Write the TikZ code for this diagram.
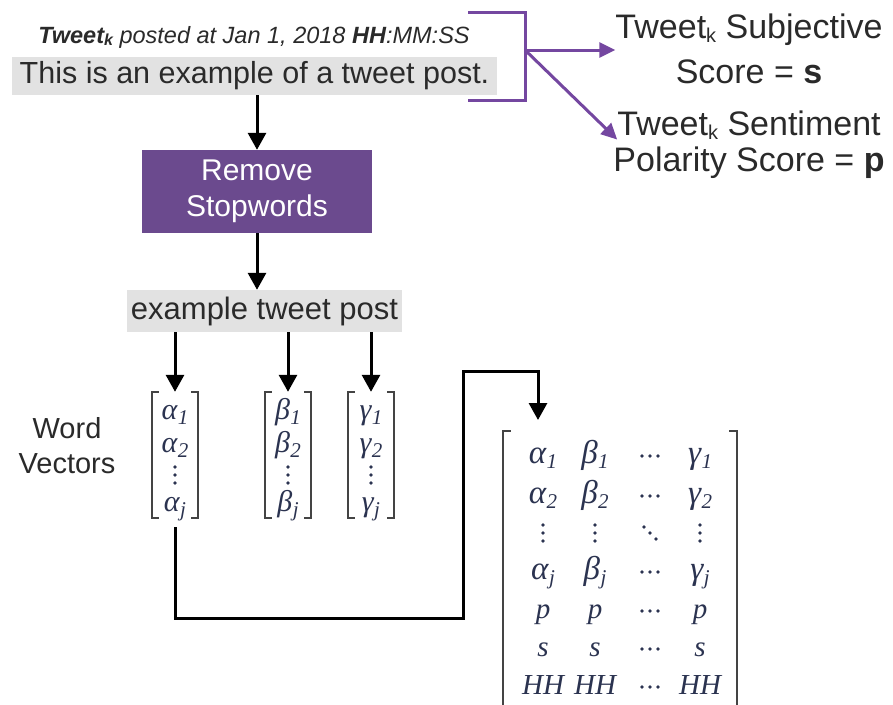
\documentclass[tikz,border=0pt]{standalone}
\usepackage{fontspec}
\setmainfont{Liberation Sans}
\newfontfamily\serifm{Liberation Serif}
\usetikzlibrary{arrows.meta}
\definecolor{boxgray}{HTML}{E2E2E2}
\definecolor{purpbox}{HTML}{6B4A8E}
\definecolor{purpline}{HTML}{7447A0}
\definecolor{txt}{HTML}{2A2A2A}
\definecolor{ent}{HTML}{2B3350}
\definecolor{brk}{HTML}{444444}
\newcommand{\fs}[1]{\fontsize{#1}{#1}\selectfont}
\newcommand{\gksize}{33}
\newcommand{\gk}[2]{{\serifm\itshape{\fontsize{\gksize}{\gksize}\selectfont #1}\kern0.5pt\raisebox{-0.2em}{\fontsize{21}{21}\selectfont #2}}}
\newcommand{\sk}{\raisebox{-0.12em}{\fontsize{20}{20}\selectfont k}}
\begin{document}
\begin{tikzpicture}[x=1pt,y=-1pt,
  arr/.style={line width=3pt,-{Triangle[width=18pt,length=17pt]}},
  parr/.style={draw=purpline,line width=3pt,-{Triangle[width=15pt,length=16pt]}},
  pline/.style={draw=purpline,line width=3pt},
  brline/.style={draw=brk,line width=1.6pt},
  dotf/.style={fill=ent},
  ent/.style={text=ent,inner sep=0pt,font=\fs{29},anchor=base},
  vent/.style={text=ent,inner sep=0pt,font=\fs{27}\renewcommand{\gksize}{30},anchor=base},
  lbl/.style={text=txt,inner sep=0pt,align=center}]
\useasboundingbox (0,0) rectangle (893,704);

% header and tweet
\node[lbl,font=\fs{23.5}\itshape] (hdr) at (254,37) {\textbf{Tweet{\fontsize{16}{16}\selectfont\raisebox{-0.15em}{k}}} posted at Jan 1, 2018 \textbf{HH}:MM:SS};
\node[fill=boxgray,minimum width=485pt,minimum height=38pt,inner sep=0pt,text=txt,font=\fs{30.5}] (tweet) at (254.5,76) {This is an example of a tweet post.};

% purple bracket
\draw[pline] (468,12) -- (525,12) -- (525,100) -- (468,100);
\coordinate (br) at (525,50);

% right texts
\node[lbl,font=\fs{34}] (subj1) at (749,30) {Tweet\sk{} Subjective};
\node[lbl,font=\fs{34}] (subj2) at (749,72) {Score = \textbf{s}};
\node[lbl,font=\fs{34}] (sent1) at (749,125) {Tweet\sk{} Sentiment};
\node[lbl,font=\fs{34}] (sent2) at (749,163) {Polarity Score = \textbf{p}};
\draw[parr] (br) -- (br -| subj1.west);
\draw[parr] (br) -- (sent1.south west);

% remove stopwords
\node[fill=purpbox,minimum width=230pt,minimum height=83pt,inner sep=0pt,text=white,align=center,font=\fontsize{30}{36}\selectfont] (remove) at (257,191.5) {Remove\\Stopwords};
\draw[arr] (remove.north |- tweet.south) -- (remove.north);

\node[fill=boxgray,minimum width=275pt,minimum height=42pt,inner sep=0pt,text=txt,font=\fs{31}] (etp) at (264.5,311) {example tweet post};
\draw[arr] (remove.south) -- (remove.south |- etp.north);

% word vectors
\node[lbl,font=\fontsize{29}{35}\selectfont] (wv) at (67,446) {Word\\Vectors};

\foreach \n/\x/\l in {a/175/α, b/288/β, c/371/γ}{
  \node[minimum width=46pt,minimum height=126pt,inner sep=0pt] (v\n) at (\x,455) {};
  \draw[brline] ([xshift=7pt]v\n.north west) -- (v\n.north west) -- (v\n.south west) -- ([xshift=7pt]v\n.south west);
  \draw[brline] ([xshift=-7pt]v\n.north east) -- (v\n.north east) -- (v\n.south east) -- ([xshift=-7pt]v\n.south east);
  \node[vent] (v\n1) at (\x,419) {\gk{\l}{1}};
  \node[vent] (v\n2) at (\x,452) {\gk{\l}{2}};
  \node[vent] (v\n4) at (\x,511) {\gk{\l}{j}};
  \foreach \dy in {467,475,483} \fill[dotf] (\x,\dy) circle (1.9pt);
}
\draw[arr] (va.north |- etp.south) -- (va.north);
\draw[arr] (vb.north |- etp.south) -- (vb.north);
\draw[arr] (vc.north |- etp.south) -- (vc.north);

% big matrix
\node[minimum width=234pt,minimum height=290pt,inner sep=0pt] (bigm) at (620,576) {};
\draw[brline] ([xshift=8pt]bigm.north west) -- (bigm.north west) -- (bigm.south west);
\draw[brline] ([xshift=-8pt]bigm.north east) -- (bigm.north east) -- (bigm.south east);
\foreach \r/\y/\ea/\eb/\ed in {
  1/463/{\gk{α}{1}}/{\gk{β}{1}}/{\gk{γ}{1}},
  2/503/{\gk{α}{2}}/{\gk{β}{2}}/{\gk{γ}{2}},
  4/579/{\gk{α}{j}}/{\gk{β}{j}}/{\gk{γ}{j}},
  5/618/{\serifm\itshape p}/{\serifm\itshape p}/{\serifm\itshape p},
  6/656/{\serifm\itshape s}/{\serifm\itshape s}/{\serifm\itshape s},
  7/694/{\serifm\itshape HH}/{\serifm\itshape HH}/{\serifm\itshape HH}}{
  \node[ent] (m\r a) at (543,\y) {\ea};
  \node[ent] (m\r b) at (595,\y) {\eb};
  \node[ent] (m\r d) at (700,\y) {\ed};
  \foreach \dx in {-8,0,8} \fill[dotf] (650+\dx,\y-7) circle (1.9pt);
}
% vertical and diagonal dots of row 3
\foreach \cx in {543,595,700}{
  \foreach \dy in {525,533,541} \fill[dotf] (\cx,\dy) circle (1.9pt);
}
\foreach \d in {-6,0,6} \fill[dotf] (650+\d,533+\d) circle (1.9pt);

\coordinate (bigin) at (538,420);
\coordinate (c1) at (463,618);
\coordinate (c2) at (463,371);
\draw[arr] ([yshift=-9pt]va.south) -- (va.south |- c1) -- (c1) -- (c2) -- (c2 -| bigin) -- (bigin);
\end{tikzpicture}
\end{document}
